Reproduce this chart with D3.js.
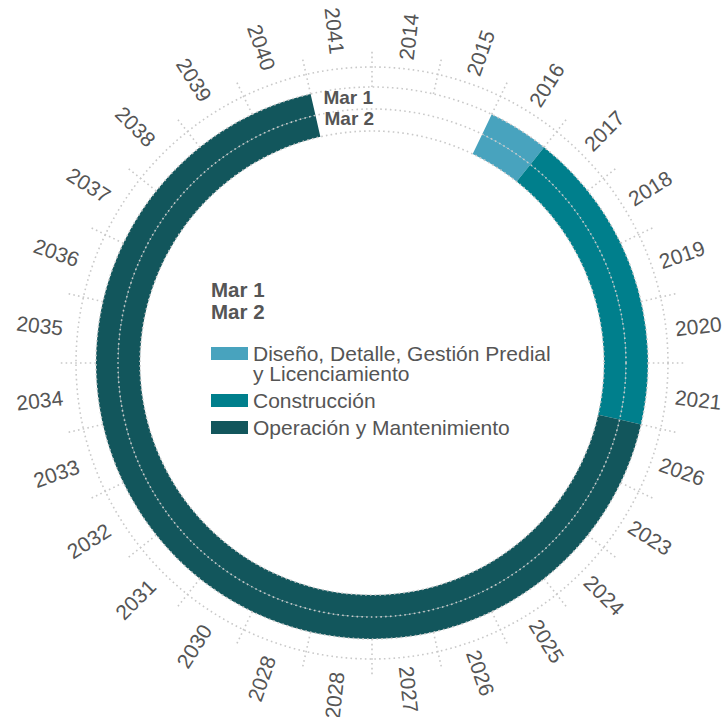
<!DOCTYPE html>
<html>
<head>
<meta charset="utf-8">
<script src="https://cdn.jsdelivr.net/npm/d3@7"></script>
<style>
  html, body { margin: 0; padding: 0; background: #fff; }
  svg { display: block; font-family: "Helvetica Neue", Helvetica, Arial, "Liberation Sans", sans-serif; }
</style>
</head>
<body>
<svg id="chart" width="726" height="717"></svg>
<script>
// ---- data ----
const categories = ["2014","2015","2016","2017","2018","2019","2020","2021","2026","2023","2024","2025","2026","2027","2028","2028","2030","2031","2032","2033","2034","2035","2036","2037","2038","2039","2040","2041"];
const rows = ["Mar 1", "Mar 2"];
const phases = ["Diseño, Detalle, Gestión Predial y Licenciamiento", "Construcción", "Operación y Mantenimiento"];
const phaseStart = [2, 3, 8];   // category index where phase starts
const phaseEnd = [3, 8, 27];    // category index where phase ends (exclusive)
const phaseColors = ["#48a3be", "#007f8c", "#12565c"];

// ---- layout ----
const W = 726, H = 717, cx = 372, cy = 363;
const rInner = 232, rOuter = 276, rGridOuter = 296, rTickEnd = 312;
const svg = d3.select("#chart");
const g = svg.append("g").attr("transform", `translate(${cx},${cy})`);

const x = d3.scaleBand().domain(d3.range(categories.length)).range([0, 2 * Math.PI]).padding(0);
const y = d3.scaleBand().domain(["Mar 2", "Mar 1"]).range([rInner, rOuter]).padding(0);
const angleAt = i => i >= categories.length ? 2 * Math.PI : x(i);

// ---- bars ----
const arc = d3.arc();
const barData = [];
rows.forEach(r => phases.forEach((p, k) => barData.push({row: r, k})));
g.append("g").selectAll("path").data(barData).join("path")
  .attr("d", d => arc({
    innerRadius: y(d.row),
    outerRadius: y(d.row) + y.bandwidth(),
    startAngle: angleAt(phaseStart[d.k]),
    endAngle: angleAt(phaseEnd[d.k])
  }))
  .attr("fill", d => phaseColors[d.k]);

// ---- grid ----
const grid = g.append("g").attr("fill", "none").attr("stroke", "#c9c9c9")
  .attr("stroke-width", 1.6).attr("stroke-dasharray", "1.6,3.2");
[rInner, y("Mar 1"), rOuter, rGridOuter].forEach(r => {
  grid.append("circle").attr("r", r);
});
grid.selectAll("line").data(d3.range(categories.length)).join("line")
  .attr("x1", i => rOuter * Math.sin(x(i)))
  .attr("y1", i => -rOuter * Math.cos(x(i)))
  .attr("x2", i => rTickEnd * Math.sin(x(i)))
  .attr("y2", i => -rTickEnd * Math.cos(x(i)));

// ---- category labels ----
g.append("g").selectAll("text").data(categories).join("text")
  .each(function(d, i) {
    const a = x(i) + x.bandwidth() / 2;
    const deg = a * 180 / Math.PI;
    const right = deg < 180;
    const r = right ? 305 : 311;
    const px = r * Math.sin(a), py = -r * Math.cos(a);
    d3.select(this)
      .attr("transform", `translate(${px},${py}) rotate(${right ? deg - 90 : deg - 270})`)
      .attr("text-anchor", right ? "start" : "end")
      .attr("dominant-baseline", "central");
  })
  .attr("font-size", 21)
  .attr("fill", "#555")
  .text(d => d);

// ---- row labels at ring gap ----
const gapAngle = angleAt(d3.max(phaseEnd)) + 2.3 * Math.PI / 180;
g.append("g").selectAll("text").data(rows).join("text")
  .attr("x", d => (y(d) + y.bandwidth() / 2) * Math.sin(gapAngle) - (d === "Mar 2" ? 3 : 0))
  .attr("y", d => -(y(d) + y.bandwidth() / 2) * Math.cos(gapAngle) + 1)
  .attr("font-size", 19).attr("font-weight", "bold").attr("fill", "#555")
  .text(d => d);

// ---- legend ----
const lg = svg.append("g").attr("transform", "translate(211,0)");
lg.selectAll("text.row").data(rows).join("text").attr("class", "row")
  .attr("x", 0).attr("y", (d, i) => 297 + i * 22)
  .attr("font-size", 20.5).attr("font-weight", "bold").attr("fill", "#555")
  .text(d => d);

const legendLines = [["Diseño, Detalle, Gestión Predial", "y Licenciamiento"], ["Construcción"], ["Operación y Mantenimiento"]];
const legendBase = [361, 408, 435];
phases.forEach((p, k) => {
  lg.append("rect").attr("x", 0).attr("y", legendBase[k] - 14).attr("width", 37).attr("height", 13)
    .attr("fill", phaseColors[k]);
  const t = lg.append("text").attr("x", 42).attr("y", legendBase[k])
    .attr("font-size", 21).attr("fill", "#555");
  legendLines[k].forEach((ln, j) => {
    t.append("tspan").attr("x", 42).attr("dy", j === 0 ? 0 : 20).text(ln);
  });
});
</script>
</body>
</html>
